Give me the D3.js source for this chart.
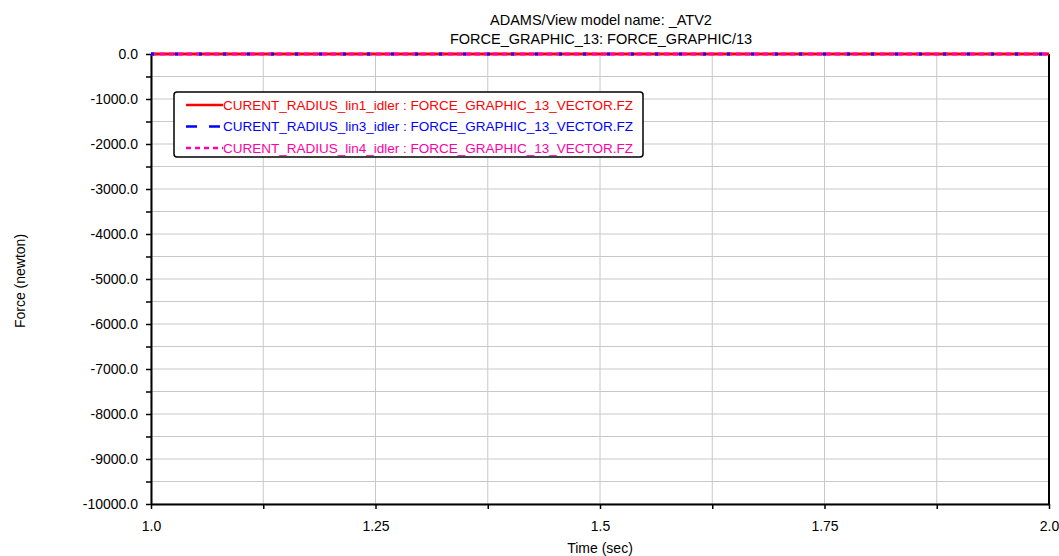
<!DOCTYPE html>
<html>
<head>
<meta charset="utf-8">
<script src="https://cdn.jsdelivr.net/npm/d3@7"></script>
<style>
  body { margin: 0; background: #fff; }
  text { font-family: "Liberation Sans", Arial, sans-serif; font-size: 14px; fill: #000; }
</style>
</head>
<body>
<script>
var width = 1059;
var height = 556;
var margin = { top: 54, right: 10, bottom: 52, left: 151 };

// dati
var titles = ['ADAMS/View model name: _ATV2', 'FORCE_GRAPHIC_13: FORCE_GRAPHIC/13'];
var time = [1.0, 1.25, 1.5, 1.75, 2.0];
var lin1 = [0, 0, 0, 0, 0];
var lin3 = [0, 0, 0, 0, 0];
var lin4 = [0, 0, 0, 0, 0];
var seriesNames = [
  'CURENT_RADIUS_lin1_idler : FORCE_GRAPHIC_13_VECTOR.FZ',
  'CURENT_RADIUS_lin3_idler : FORCE_GRAPHIC_13_VECTOR.FZ',
  'CURENT_RADIUS_lin4_idler : FORCE_GRAPHIC_13_VECTOR.FZ'
];
var seriesColors = ['#ff0000', '#0000ff', '#ff00aa'];
var seriesDash = [null, '11,12', '5,4'];
var xTicks = [1.0, 1.25, 1.5, 1.75, 2.0];
var xTickLabels = ['1.0', '1.25', '1.5', '1.75', '2.0'];
var xMinor = [1.125, 1.375, 1.625, 1.875];
var yTicks = [0, -1000, -2000, -3000, -4000, -5000, -6000, -7000, -8000, -9000, -10000];
var yMinor = [-500, -1500, -2500, -3500, -4500, -5500, -6500, -7500, -8500, -9500];

var x = d3.scaleLinear().domain([1.0, 2.0]).range([margin.left, width - margin.right]);
var y = d3.scaleLinear().domain([-10000, 0]).range([height - margin.bottom, margin.top]);

var svg = d3.select('body').append('svg')
  .attr('width', width)
  .attr('height', height);

// griglia
var grid = svg.append('g').attr('class', 'grid');
grid.selectAll('line.gx')
  .data(xTicks.concat(xMinor))
  .enter().append('line')
  .attr('x1', function (d) { return x(d) }).attr('x2', function (d) { return x(d) })
  .attr('y1', y(0)).attr('y2', y(-10000))
  .style('stroke', '#c8c8c8').style('stroke-width', 1);
grid.selectAll('line.gy')
  .data(yTicks.concat(yMinor))
  .enter().append('line')
  .attr('y1', function (d) { return y(d) }).attr('y2', function (d) { return y(d) })
  .attr('x1', x(1.0)).attr('x2', x(2.0))
  .style('stroke', '#c8c8c8').style('stroke-width', 1);

// assi
var xAxis = d3.axisBottom(x).tickValues(xTicks.concat(xMinor)).tickSize(5).tickSizeOuter(0)
  .tickFormat(function (d) { var i = xTicks.indexOf(d); return i >= 0 ? xTickLabels[i] : '' });
var gx = svg.append('g')
  .attr('transform', 'translate(0,' + y(-10000) + ')')
  .call(xAxis);
gx.selectAll('text').attr('dy', '1.35em').style('font-size', '14px');

var yAxis = d3.axisLeft(y).tickValues(yTicks.concat(yMinor)).tickSize(5).tickSizeOuter(0)
  .tickFormat(function (d) { return yTicks.indexOf(d) >= 0 ? d3.format('.1f')(d) : '' });
var gy = svg.append('g')
  .attr('transform', 'translate(' + x(1.0) + ',0)')
  .call(yAxis);
gy.selectAll('text').attr('x', -13).style('font-size', '14px').text(function (d) {
  return yTicks.indexOf(d) >= 0 ? d3.format('.1f')(d).replace('\u2212', '-') : '';
});

svg.selectAll('.domain').style('stroke', '#000').style('stroke-width', 2);
svg.selectAll('.tick line').style('stroke', '#000').style('stroke-width', 1.5);

// bordo destro
svg.append('line')
  .attr('x1', x(2.0)).attr('x2', x(2.0))
  .attr('y1', y(0)).attr('y2', y(-10000))
  .style('stroke', '#000').style('stroke-width', 2);

// curve (rossa, poi magenta, poi blu sopra)
var line = d3.line()
  .x(function (d) { return x(d[0]) })
  .y(function (d) { return y(d[1]) });
var allSeries = [lin1, lin3, lin4];
var drawOrder = [0, 2, 1];
drawOrder.forEach(function (i) {
  svg.append('path')
    .datum(time.map(function (t, k) { return [t, allSeries[i][k]] }))
    .attr('d', line)
    .style('fill', 'none')
    .style('stroke', seriesColors[i])
    .style('stroke-width', 3)
    .style('stroke-dasharray', i === 1 ? '3,21' : seriesDash[i]);
});

// titoli
svg.selectAll('text.title')
  .data(titles)
  .enter().append('text')
  .attr('class', 'title')
  .attr('x', 601)
  .attr('y', function (d, i) { return 25 + i * 19 })
  .attr('text-anchor', 'middle')
  .style('font-size', '14.5px')
  .text(function (d) { return d });

svg.append('text')
  .attr('x', 600).attr('y', 553)
  .attr('text-anchor', 'middle')
  .text('Time (sec)');

svg.append('text')
  .attr('transform', 'translate(25,' + 281 + ') rotate(-90)')
  .attr('text-anchor', 'middle')
  .text('Force (newton)');

// legenda
var legend = svg.append('g').attr('transform', 'translate(174,92)');
legend.append('rect')
  .attr('width', 469).attr('height', 65)
  .attr('rx', 3)
  .style('fill', '#fff').style('stroke', '#000').style('stroke-width', 1.5);
var rows = legend.selectAll('g.row')
  .data(seriesNames)
  .enter().append('g')
  .attr('transform', function (d, i) { return 'translate(0,' + (13 + i * 21.5) + ')' });
rows.append('line')
  .attr('x1', 12).attr('x2', 49)
  .style('stroke', function (d, i) { return seriesColors[i] })
  .style('stroke-width', 2.5)
  .style('stroke-dasharray', function (d, i) { return seriesDash[i] });
rows.append('text')
  .attr('x', 49).attr('dy', '0.36em')
  .style('font-size', '13.5px')
  .style('fill', function (d, i) { return seriesColors[i] })
  .text(function (d) { return d });
</script>
</body>
</html>
